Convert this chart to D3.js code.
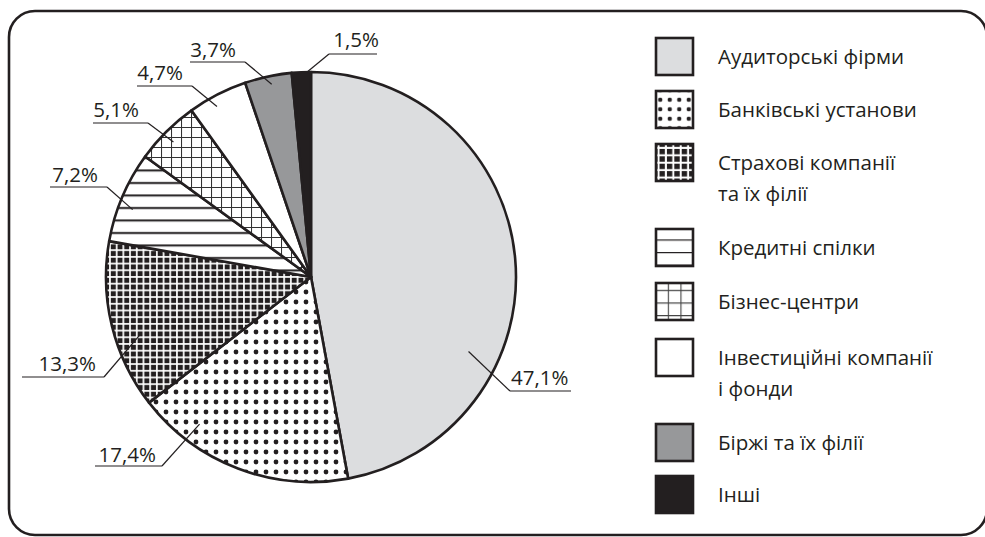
<!DOCTYPE html>
<html><head><meta charset="utf-8">
<script src="https://cdn.jsdelivr.net/npm/d3@7"></script>
<style>
html,body{margin:0;padding:0;background:#fff;}
svg{display:block;font-family:"Open Sans",sans-serif;}
</style></head>
<body>
<svg id="chart" width="985" height="537"></svg>
<script>
// ---- data ----
const categories = ["Аудиторські фірми","Банківські установи","Страхові компанії та їх філії","Кредитні спілки","Бізнес-центри","Інвестиційні компанії і фонди","Біржі та їх філії","Інші"];
const legendLines = [["Аудиторські фірми"],["Банківські установи"],["Страхові компанії","та їх філії"],["Кредитні спілки"],["Бізнес-центри"],["Інвестиційні компанії","і фонди"],["Біржі та їх філії"],["Інші"]];
const values = [47.1, 17.4, 13.3, 7.2, 5.1, 4.7, 3.7, 1.5];
const valueLabels = ["47,1%","17,4%","13,3%","7,2%","5,1%","4,7%","3,7%","1,5%"];

// ---- layout (annotation positions) ----
const fills = ["#dcdddf","url(#dots)","url(#sq)","url(#hl)","url(#grid)","#ffffff","#97989a","#231f20"];
const legendFills = ["#dcdddf","url(#ldots)","url(#lsq)","url(#lhl)","url(#lgrid)","#ffffff","#97989a","#231f20"];
const labelLayout = [
  {tx:511, ty:385, ta:"start", ux1:510, ux2:571, uy:391, ex:510, af:0.68, rf:0.85},
  {tx:156, ty:462, ta:"end",   ux1:95,  ux2:162, uy:466, ex:162, af:0.76, rf:0.90},
  {tx:96,  ty:371, ta:"end",   ux1:22,  ux2:104, uy:377, ex:104, af:0.40, rf:0.88},
  {tx:98,  ty:182, ta:"end",   ux1:50,  ux2:107, uy:187, ex:107, af:0.41, rf:0.93},
  {tx:139, ty:117, ta:"end",   ux1:93,  ux2:148, uy:123, ex:148, af:0.46, rf:0.94},
  {tx:183, ty:80,  ta:"end",   ux1:137, ux2:192, uy:86,  ex:192, af:0.40, rf:0.95},
  {tx:236, ty:57,  ta:"end",   ux1:190, ux2:245, uy:62,  ex:245, af:0.54, rf:0.96},
  {tx:379, ty:47,  ta:"end",   ux1:329, ux2:377, uy:54,  ex:329, af:0.80, rf:1.00}
];
const legendTextY = [57, 110, 163, 248, 302, 358, 443, 495];

const ink = "#231f20";
const svg = d3.select("#chart");
const defs = svg.append("defs");

function pat(id, w, h){
  return defs.append("pattern").attr("id", id).attr("width", w).attr("height", h)
    .attr("patternUnits", "userSpaceOnUse");
}
// dots
let p = pat("dots", 10, 10);
p.append("rect").attr("width",10).attr("height",10).attr("fill","#fff");
p.append("circle").attr("cx",5).attr("cy",5).attr("r",2.4).attr("fill",ink);
p = pat("ldots", 9.5, 9.5);
p.append("rect").attr("width",9.5).attr("height",9.5).attr("fill","#fff");
p.append("circle").attr("cx",4.75).attr("cy",4.75).attr("r",2.2).attr("fill",ink);
// black squares on white grid
p = pat("sq", 6.7, 6.7);
p.append("rect").attr("width",6.7).attr("height",6.7).attr("fill","#fff");
p.append("rect").attr("x",0.8).attr("y",0.8).attr("width",5).attr("height",5).attr("fill",ink);
p = pat("lsq", 7.4, 7.4);
p.append("rect").attr("width",7.4).attr("height",7.4).attr("fill","#fff");
p.append("rect").attr("x",0.9).attr("y",0.9).attr("width",5.4).attr("height",5.4).attr("fill",ink);
// horizontal lines
p = pat("hl", 12.5, 12.5);
p.append("rect").attr("width",12.5).attr("height",12.5).attr("fill","#fff");
p.append("line").attr("x1",0).attr("x2",12.5).attr("y1",6).attr("y2",6).attr("stroke",ink).attr("stroke-width",2);
p = pat("lhl", 40, 12.6);
p.append("rect").attr("width",40).attr("height",12.6).attr("fill","#fff");
p.append("line").attr("x1",0).attr("x2",40).attr("y1",0).attr("y2",0).attr("stroke",ink).attr("stroke-width",2.6);
// thin grid
p = pat("grid", 10, 10);
p.append("rect").attr("width",10).attr("height",10).attr("fill","#fff");
p.append("path").attr("d","M0,0.5H10M0.5,0V10").attr("stroke","#333").attr("stroke-width",1.1).attr("fill","none");
p = pat("lgrid", 12.6, 12.6);
p.append("rect").attr("width",12.6).attr("height",12.6).attr("fill","#fff");
p.append("path").attr("d","M0,0.5H12.6M0.5,0V12.6").attr("stroke","#444").attr("stroke-width",1.2).attr("fill","none");

// frame
svg.append("rect").attr("x",9).attr("y",11).attr("width",978).attr("height",524)
  .attr("rx",26).attr("ry",26).attr("fill","none").attr("stroke",ink).attr("stroke-width",2.6);

// pie
const cx = 311, cy = 277, R = 205;
const g = svg.append("g").attr("transform",`translate(${cx},${cy})`);
const pie = d3.pie().sort(null).value(d => d)(values);
const arc = d3.arc().innerRadius(0).outerRadius(R);
g.selectAll("path.slice").data(pie).join("path").attr("class","slice")
  .attr("d", arc).attr("fill", (d,i) => fills[i])
  .attr("stroke", ink).attr("stroke-width", 2.6).attr("stroke-linejoin","round");

// labels
const lab = svg.append("g");
pie.forEach((d,i) => {
  const L = labelLayout[i];
  const a = d.startAngle + (d.endAngle - d.startAngle) * L.af;
  const r = R * L.rf;
  const ax = cx + r * Math.sin(a), ay = cy - r * Math.cos(a);
  lab.append("polyline")
    .attr("points", `${ax},${ay} ${L.ex},${L.uy}`)
    .attr("fill","none").attr("stroke",ink).attr("stroke-width",1.2);
  lab.append("line").attr("x1",L.ux1).attr("x2",L.ux2).attr("y1",L.uy).attr("y2",L.uy)
    .attr("stroke",ink).attr("stroke-width",1.2);
  lab.append("text").attr("x",L.tx).attr("y",L.ty).attr("text-anchor",L.ta)
    .attr("font-size",20.5).attr("fill",ink).text(valueLabels[i]);
});

// legend
const lg = svg.append("g");
categories.forEach((c,i) => {
  const ty = legendTextY[i];
  lg.append("rect").attr("x",656).attr("y",ty-19).attr("width",37).attr("height",37)
    .attr("fill",legendFills[i]).attr("stroke",ink).attr("stroke-width",2.6);
  const t = lg.append("text").attr("x",718).attr("y",ty)
    .attr("font-size",20.5).attr("fill",ink);
  legendLines[i].forEach((ln,k) => {
    t.append("tspan").attr("x",718).attr("dy", k===0 ? "0.35em" : "31px").text(ln);
  });
});
</script>
</body></html>
